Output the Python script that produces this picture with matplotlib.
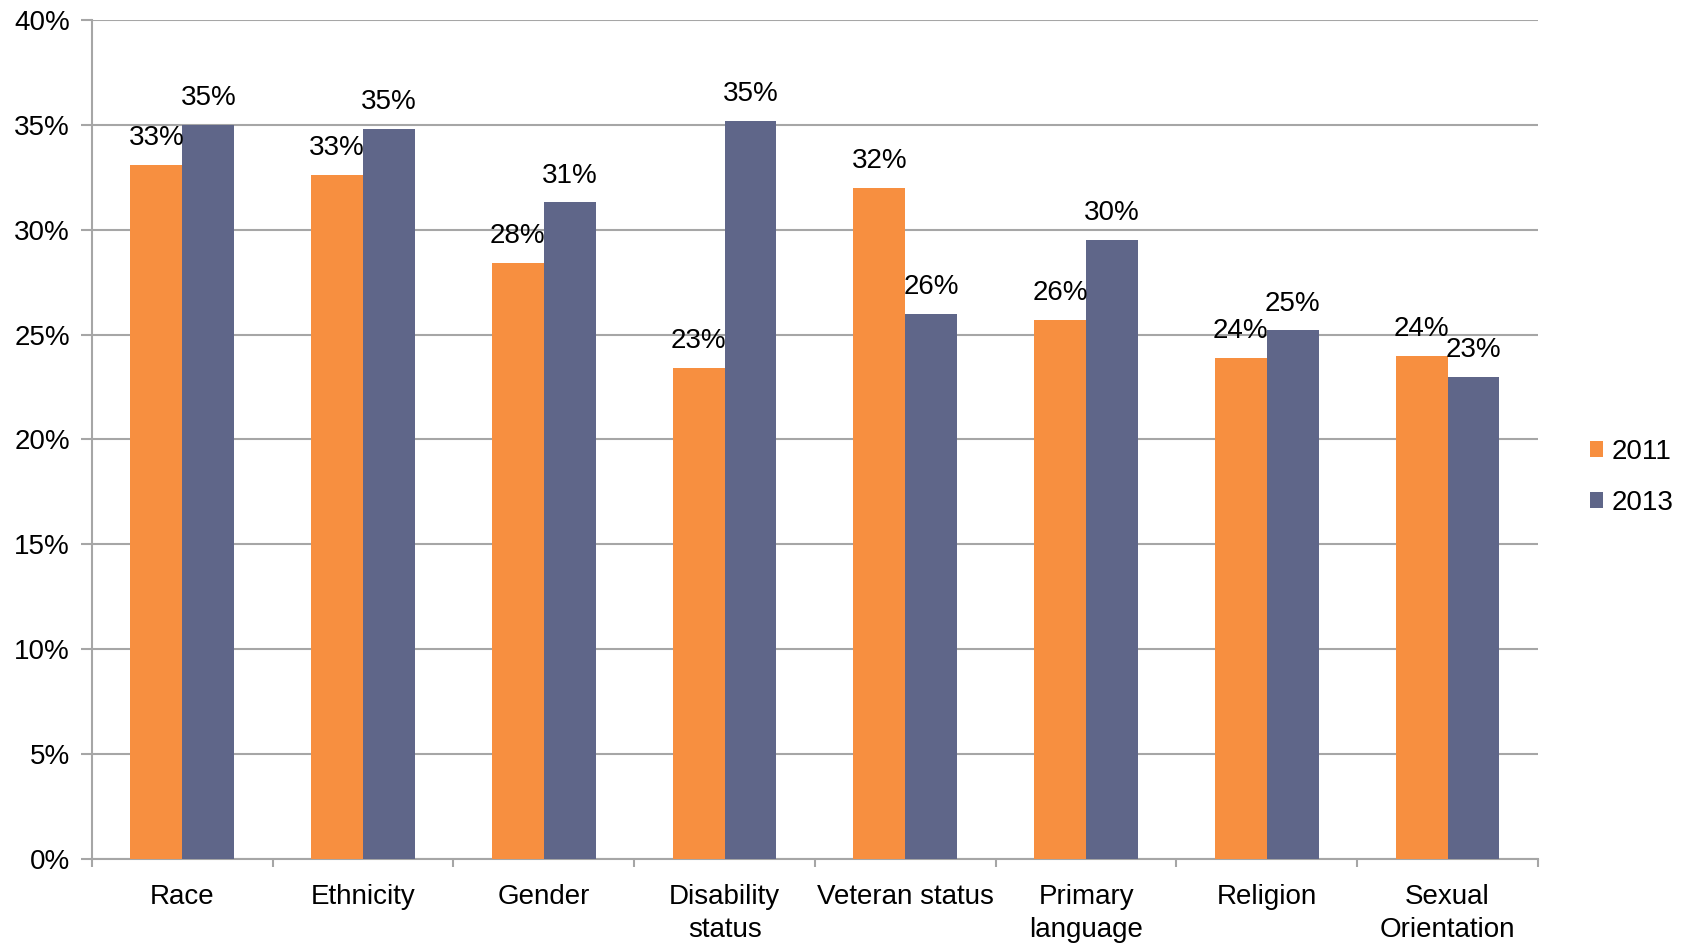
import matplotlib
matplotlib.use("Agg")
import matplotlib.pyplot as plt
import numpy as np

categories = ["Race", "Ethnicity", "Gender", "Disability\nstatus", "Veteran status",
              "Primary\nlanguage", "Religion", "Sexual\nOrientation"]
values_2011 = [33.1, 32.6, 28.4, 23.4, 32.0, 25.7, 23.9, 24.0]
values_2013 = [35.0, 34.8, 31.3, 35.2, 26.0, 29.5, 25.2, 23.0]
series_names = ["2011", "2013"]
yticks = [0, 5, 10, 15, 20, 25, 30, 35, 40]

plt.rcParams['font.family'] = ['Liberation Sans', 'DejaVu Sans']
FS = 20
c11 = "#F78F40"
c13 = "#5F6689"
gridc = "#A6A6A6"

fig = plt.figure(figsize=(16.91, 9.43), dpi=100)
ax = fig.add_axes([0.0544, 0.0891, 0.9095 - 0.0544, 0.9788 - 0.0891])

x = np.arange(len(categories))
w = 0.287
b1 = ax.bar(x - w / 2, values_2011, w, color=c11, label=series_names[0], zorder=3)
b2 = ax.bar(x + w / 2, values_2013, w, color=c13, label=series_names[1], zorder=3)

for bars, vals in ((b1, values_2011), (b2, values_2013)):
    for r, v in zip(bars, vals):
        ax.annotate(f"{round(v):.0f}%", (r.get_x() + r.get_width() / 2, v),
                    xytext=(0, 10), textcoords="offset points", ha="center", va="bottom",
                    fontsize=FS, zorder=4)

ax.set_xlim(-0.5, len(categories) - 0.5)
ax.set_ylim(0, 40)
ax.set_yticks(yticks)
ax.set_yticklabels([f"{t}%" for t in yticks], fontsize=FS)
ax.yaxis.grid(True, color=gridc, linewidth=1.5, zorder=0)
ax.set_axisbelow(True)

ax.set_xticks(x)
ax.set_xticklabels(categories, fontsize=FS, linespacing=1.35)
ax.tick_params(axis="x", which="major", length=0, pad=18)
ax.set_xticks(np.arange(len(categories) + 1) - 0.5, minor=True)
ax.tick_params(axis="x", which="minor", length=6, width=1.5, color=gridc, direction="out")
ax.tick_params(axis="y", length=8, width=1.5, color=gridc, direction="out", pad=8)

for s in ("top", "right"):
    ax.spines[s].set_visible(False)
for s in ("left", "bottom"):
    ax.spines[s].set_color(gridc)
    ax.spines[s].set_linewidth(1.5)

leg = ax.legend(loc="center left", bbox_to_anchor=(0.940, 0.494), bbox_transform=fig.transFigure,
                frameon=False, fontsize=FS, borderaxespad=0, borderpad=0,
                handlelength=0.5, handleheight=0.5, handletextpad=0.3, labelspacing=0.9)

fig.savefig("out.png", dpi=100)
